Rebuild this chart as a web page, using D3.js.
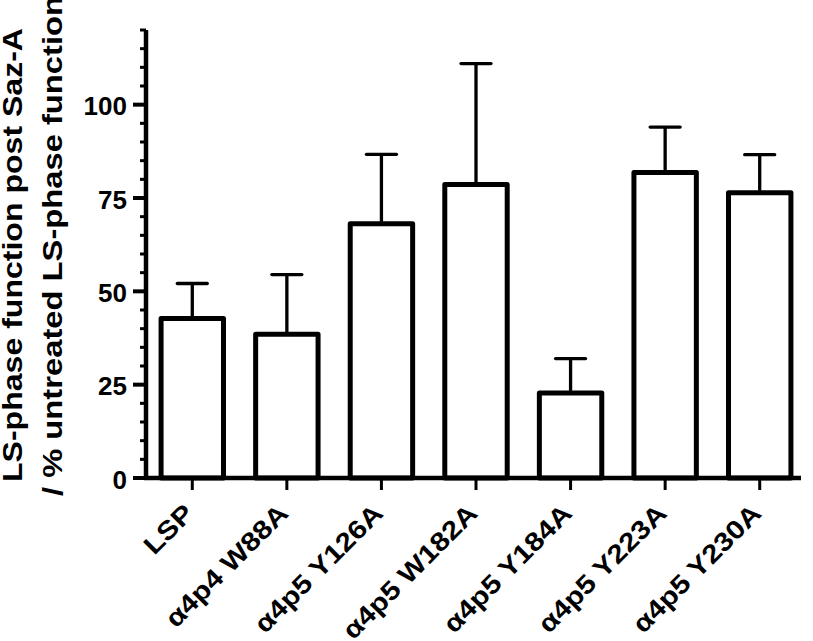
<!DOCTYPE html>
<html>
<head>
<meta charset="utf-8">
<script src="https://cdn.jsdelivr.net/npm/d3@7"></script>
<style>
  body { margin: 0; background: #fff; }
  text { font-family: "Liberation Sans", Arial, Helvetica, sans-serif; font-weight: bold; fill: #000; }
</style>
</head>
<body>
<div id="chart"></div>
<script>
const categories = ['LSP', 'α4p4 W88A', 'α4p5 Y126A', 'α4p5 W182A', 'α4p5 Y184A', 'α4p5 Y223A', 'α4p5 Y230A'];
const means = [42.7, 38.5, 68.1, 78.6, 22.8, 81.8, 76.4];
const upperErrors = [52.1, 54.5, 86.7, 111.0, 32.0, 94.0, 86.6];
const yTicks = [0, 25, 50, 75, 100];
const yLabelLines = ['LS-phase function post Saz-A', '/ % untreated LS-phase function'];

const width = 813, height = 641;

const svg = d3.select('#chart').append('svg')
  .attr('width', width)
  .attr('height', height);

const y = d3.scaleLinear()
  .domain([0, 120])
  .range([478, 30]);

const x = d3.scaleBand()
  .domain(categories)
  .range([145, 807])
  .paddingInner(0.34)
  .paddingOuter(0.17);

// y axis: major ticks with labels, minor ticks every 5
const yAxis = svg.append('g')
  .attr('transform', 'translate(146,0)');

yAxis.append('line')
  .attr('x1', 0).attr('x2', 0)
  .attr('y1', y(120)).attr('y2', y(0) + 2)
  .attr('stroke', '#000')
  .attr('stroke-width', 4.5);

yAxis.selectAll('line.minor')
  .data(d3.range(0, 121, 5))
  .enter()
  .append('line')
  .attr('class', 'minor')
  .attr('x1', d => (d % 25 === 0 ? -13 : -6))
  .attr('x2', 0)
  .attr('y1', d => y(d))
  .attr('y2', d => y(d))
  .attr('stroke', '#000')
  .attr('stroke-width', d => (d % 25 === 0 ? 4 : 3));

yAxis.selectAll('text.tick-label')
  .data(yTicks)
  .enter()
  .append('text')
  .attr('class', 'tick-label')
  .attr('x', -19)
  .attr('y', d => y(d) + 10.5)
  .style('font-size', '26px')
  .style('text-anchor', 'end')
  .text(d => d);

// bars
svg.selectAll('rect.bar')
  .data(categories)
  .enter()
  .append('rect')
  .attr('class', 'bar')
  .attr('x', d => x(d))
  .attr('y', (d, i) => y(means[i]))
  .attr('width', x.bandwidth())
  .attr('height', (d, i) => y(0) - y(means[i]))
  .attr('fill', '#fff')
  .attr('stroke', '#000')
  .attr('stroke-width', 5)
  .attr('stroke-linejoin', 'round');

// error bars (upper only)
const err = svg.selectAll('g.err')
  .data(categories)
  .enter()
  .append('g')
  .attr('class', 'err')
  .attr('transform', d => 'translate(' + (x(d) + x.bandwidth() / 2) + ',0)');

err.append('line')
  .attr('x1', 0).attr('x2', 0)
  .attr('y1', (d, i) => y(means[i]) - 2)
  .attr('y2', (d, i) => y(upperErrors[i]))
  .attr('stroke', '#000')
  .attr('stroke-width', 3.3);

err.append('line')
  .attr('x1', -15).attr('x2', 15)
  .attr('y1', (d, i) => y(upperErrors[i]))
  .attr('y2', (d, i) => y(upperErrors[i]))
  .attr('stroke', '#000')
  .attr('stroke-width', 3.3)
  .attr('stroke-linecap', 'round');

// x axis baseline and ticks
svg.append('line')
  .attr('x1', 144)
  .attr('x2', x.range()[1] - 6)
  .attr('y1', y(0))
  .attr('y2', y(0))
  .attr('stroke', '#000')
  .attr('stroke-width', 4.5);

const xTicks = svg.selectAll('g.xtick')
  .data(categories)
  .enter()
  .append('g')
  .attr('class', 'xtick')
  .attr('transform', d => 'translate(' + (x(d) + x.bandwidth() / 2) + ',' + y(0) + ')');

xTicks.append('line')
  .attr('x1', 0).attr('x2', 0)
  .attr('y1', 0).attr('y2', 12)
  .attr('stroke', '#000')
  .attr('stroke-width', 3);

xTicks.append('text')
  .attr('transform', 'translate(3,37) rotate(-45) scale(1.15,1)')
  .style('font-size', '26px')
  .style('text-anchor', 'end')
  .text(d => d);

// y axis title, two rotated lines
const yTitle = svg.append('g').attr('class', 'y-title');

yTitle.append('text')
  .attr('transform', 'translate(22,482) rotate(-90)')
  .attr('textLength', 454)
  .attr('lengthAdjust', 'spacingAndGlyphs')
  .style('font-size', '27px')
  .text(yLabelLines[0]);

yTitle.append('text')
  .attr('transform', 'translate(62,496) rotate(-90)')
  .attr('textLength', 500)
  .attr('lengthAdjust', 'spacingAndGlyphs')
  .style('font-size', '27px')
  .text(yLabelLines[1]);
</script>
</body>
</html>
